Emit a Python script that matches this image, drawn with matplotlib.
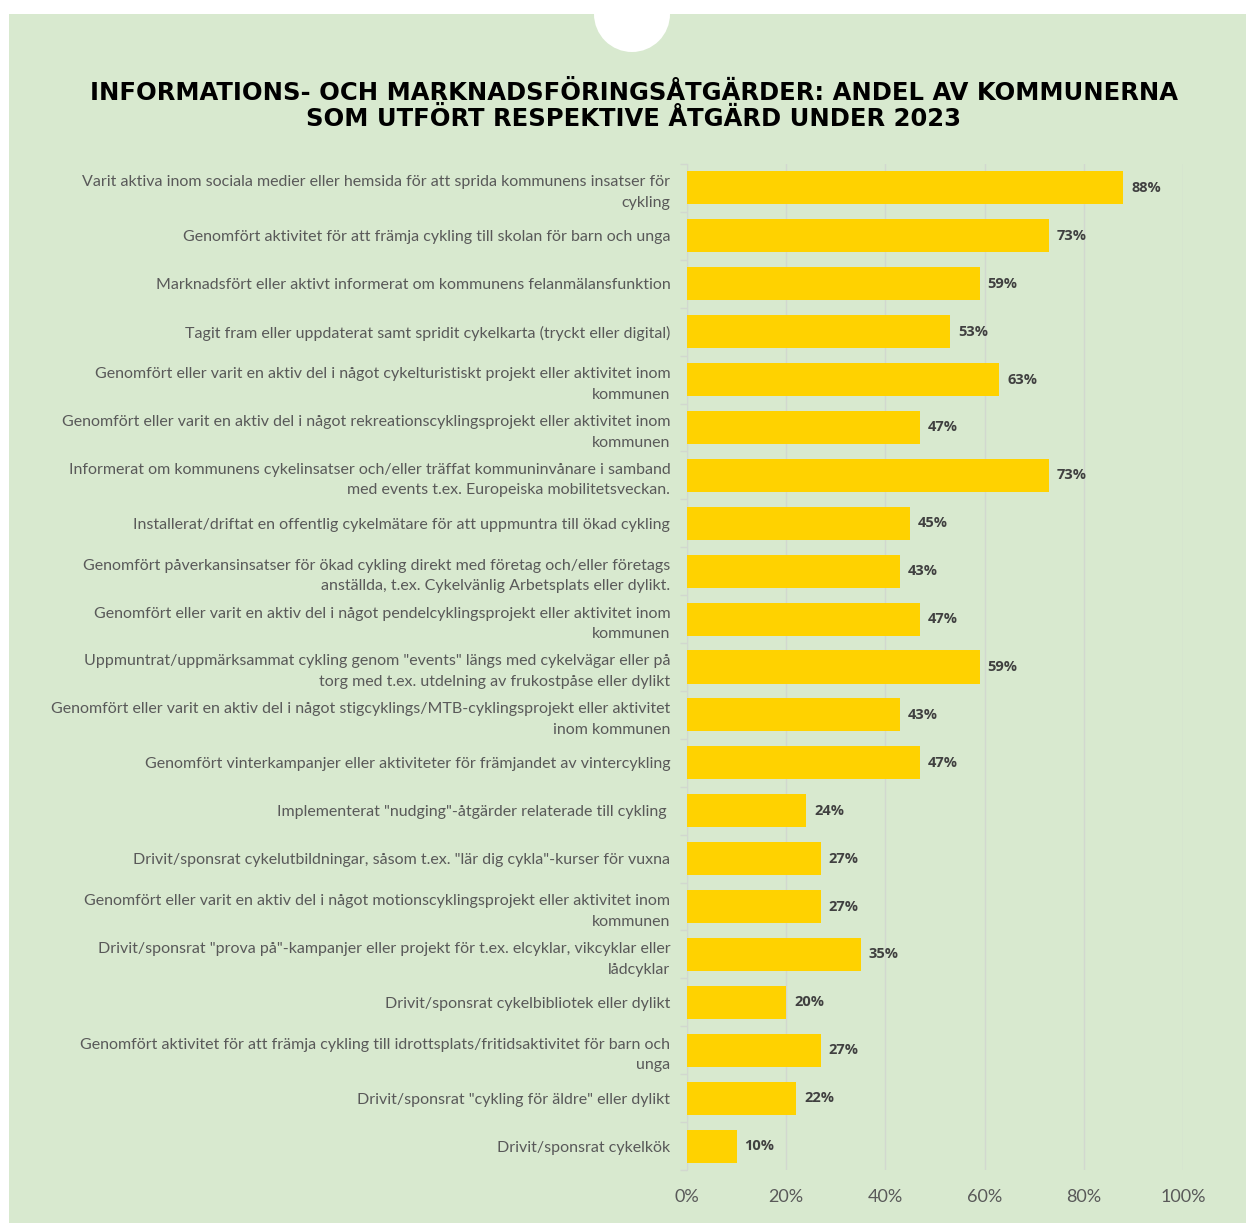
import matplotlib
matplotlib.use('Agg')
import matplotlib.pyplot as plt
from matplotlib.patches import Rectangle, Ellipse
from matplotlib.ticker import FixedLocator

# data
labels = [
    'Varit aktiva inom sociala medier eller hemsida för att sprida kommunens insatser för\ncykling',
    'Genomfört aktivitet för att främja cykling till skolan för barn och unga',
    'Marknadsfört eller aktivt informerat om kommunens felanmälansfunktion',
    'Tagit fram eller uppdaterat samt spridit cykelkarta (tryckt eller digital)',
    'Genomfört eller varit en aktiv del i något cykelturistiskt projekt eller aktivitet inom\nkommunen',
    'Genomfört eller varit en aktiv del i något rekreationscyklingsprojekt eller aktivitet inom\nkommunen',
    'Informerat om kommunens cykelinsatser och/eller träffat kommuninvånare i samband\nmed events t.ex. Europeiska mobilitetsveckan.',
    'Installerat/driftat en offentlig cykelmätare för att uppmuntra till ökad cykling',
    'Genomfört påverkansinsatser för ökad cykling direkt med företag och/eller företags\nanställda, t.ex. Cykelvänlig Arbetsplats eller dylikt.',
    'Genomfört eller varit en aktiv del i något pendelcyklingsprojekt eller aktivitet inom\nkommunen',
    'Uppmuntrat/uppmärksammat cykling genom "events" längs med cykelvägar eller på\ntorg med t.ex. utdelning av frukostpåse eller dylikt',
    'Genomfört eller varit en aktiv del i något stigcyklings/MTB-cyklingsprojekt eller aktivitet\ninom kommunen',
    'Genomfört vinterkampanjer eller aktiviteter för främjandet av vintercykling',
    'Implementerat "nudging"-åtgärder relaterade till cykling ',
    'Drivit/sponsrat cykelutbildningar, såsom t.ex. "lär dig cykla"-kurser för vuxna',
    'Genomfört eller varit en aktiv del i något motionscyklingsprojekt eller aktivitet inom\nkommunen',
    'Drivit/sponsrat "prova på"-kampanjer eller projekt för t.ex. elcyklar, vikcyklar eller\nlådcyklar',
    'Drivit/sponsrat cykelbibliotek eller dylikt',
    'Genomfört aktivitet för att främja cykling till idrottsplats/fritidsaktivitet för barn och\nunga',
    'Drivit/sponsrat "cykling för äldre" eller dylikt',
    'Drivit/sponsrat cykelkök',
]
values = [88, 73, 59, 53, 63, 47, 73, 45, 43, 47, 59, 43, 47, 24, 27, 27, 35, 20, 27, 22, 10]
xticks = [0, 20, 40, 60, 80, 100]
title = 'INFORMATIONS- OCH MARKNADSFÖRINGSÅTGÄRDER: ANDEL AV KOMMUNERNA\nSOM UTFÖRT RESPEKTIVE ÅTGÄRD UNDER 2023'

bg = '#d8e9cf'
W, H = 1246, 1223
fig = plt.figure(figsize=(W / 100, H / 100), dpi=100, facecolor='white')

# green panel with white notch at top
fig.patches.append(Rectangle((9 / W, 0), 1 - 9 / W, 1 - 14 / H, transform=fig.transFigure,
                             facecolor=bg, edgecolor='none', zorder=-2))
fig.patches.append(Ellipse((632 / W, 1 - 14 / H), 76 / W, 76 / H, transform=fig.transFigure,
                           facecolor='white', edgecolor='none', zorder=-1))

ax = fig.add_axes([687 / W, 1 - 1170 / H, (1183 - 687) / W, (1170 - 164) / H])
ax.set_facecolor('none')

ypos = list(range(len(values)))
ax.barh(ypos, values, height=0.69, color='#ffd200', zorder=3)
for y, v in zip(ypos, values):
    ax.text(v + 1.6, y, f'{v}%', va='center', ha='left', fontsize=10.5,
            fontweight='bold', color='#404040', family='Open Sans')

ax.set_xlim(0, 100)
ax.set_ylim(len(values) - 0.5, -0.5)
ax.set_xticks(xticks)
ax.set_xticklabels([f'{t}%' for t in xticks], fontsize=13, color='#595959', family='Lato')
ax.set_yticks(ypos)
ax.set_yticklabels(labels, fontsize=11.5, color='#595959', family='Lato', linespacing=1.6)
ax.yaxis.set_minor_locator(FixedLocator([i - 0.5 for i in range(len(values) + 1)]))
ax.tick_params(axis='y', which='major', length=0, pad=12)
ax.tick_params(axis='y', which='minor', length=5, color='#d2d8cf', width=1)
ax.tick_params(axis='x', length=0, pad=14)
ax.grid(axis='x', color='#d2d8cf', linewidth=1, zorder=0)
for s in ['top', 'right', 'bottom']:
    ax.spines[s].set_visible(False)
ax.spines['left'].set_color('#d2d8cf')

fig.text(634 / W, 1 - 106 / H, title, ha='center', va='center', fontsize=17.5,
         fontweight='bold', family='DejaVu Sans', color='black', linespacing=1.15)

fig.savefig('out.png', dpi=100, facecolor='white')
